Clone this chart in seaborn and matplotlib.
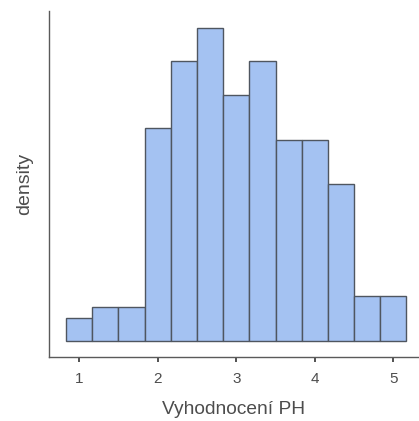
import matplotlib
matplotlib.use("Agg")
import matplotlib.pyplot as plt
import seaborn as sns

# stredy binu a pocty
ph_centers = [1.0, 1.333, 1.667, 2.0, 2.333, 2.667, 3.0, 3.333, 3.667, 4.0, 4.333, 4.667, 5.0]
ph_counts = [2, 3, 3, 19, 25, 28, 22, 25, 18, 18, 14, 4, 4]
x_ticks = [1, 2, 3, 4, 5]

sns.set_theme(style="ticks")
plt.rcParams['font.family'] = ['Liberation Sans', 'DejaVu Sans']

fig = plt.figure(figsize=(4.19, 4.21), dpi=100)
ax = fig.add_axes([0.117, 0.1527, 0.883, 0.821])

sns.histplot(
    x=ph_centers, weights=ph_counts, stat="density",
    binwidth=1 / 3, binrange=(5 / 6, 31 / 6),
    color="#a4c2f2", alpha=1.0, edgecolor="#4f5660", linewidth=1.0, ax=ax
)

dens_max = max(ph_counts) * 3 / sum(ph_counts)
ax.set_ylim(-dens_max * 1.43 / 28, dens_max * 29.5 / 28)
ax.set_xlim(0.618, 5.326)

ax.set_xticks(x_ticks)
ax.set_xticklabels([str(t) for t in x_ticks])
ax.set_yticks([])
ax.tick_params(axis="x", length=3.5, width=1.2, color="#333333", pad=7.5,
               labelsize=11, labelcolor="#4d4d4d")

for side in ["top", "right"]:
    ax.spines[side].set_visible(False)
for side in ["left", "bottom"]:
    ax.spines[side].set_color("#5a5a5a")
    ax.spines[side].set_linewidth(1.0)

ax.set_xlabel("Vyhodnocení PH", fontsize=13.8, color="#4d4d4d", labelpad=11)
ax.set_ylabel("density", fontsize=14, color="#4d4d4d", labelpad=11.5)

fig.savefig("out.png", dpi=100)
